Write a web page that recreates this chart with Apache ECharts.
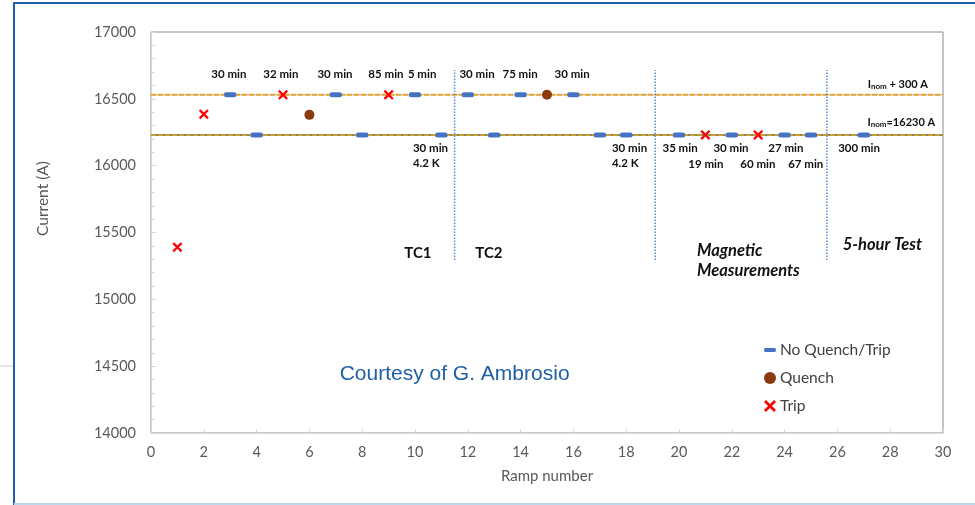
<!DOCTYPE html>
<html>
<head>
<meta charset="utf-8">
<script src="https://cdn.jsdelivr.net/npm/echarts@6/dist/echarts.min.js"></script>
<style>html,body{margin:0;padding:0;background:#fff;}#c{width:975px;height:505px;}</style>
</head>
<body>
<div id="c"></div>
<script>
// ---- data ----
const noQuench = [[3,16530],[7,16530],[10,16530],[12,16530],[14,16530],[16,16530],
  [4,16230],[8,16230],[11,16230],[13,16230],[17,16230],[18,16230],[20,16230],[22,16230],[24,16230],[25,16230],[27,16230]];
const quench = [[6,16380],[15,16530]];
const trip = [[1,15390],[2,16385],[5,16530],[9,16530],[21,16230],[23,16230]];
const nomLevel = 16230;
const nomPlusLevel = 16530;
const phaseBounds = [11.5, 19.1, 25.6];
const phaseLineRange = [15294, 16716];
const topNotes = [[2.95,'30 min'],[4.92,'32 min'],[6.97,'30 min'],[8.9,'85 min'],[10.27,'5 min'],[12.35,'30 min'],[13.98,'75 min'],[15.95,'30 min']];
const lowNotes1 = [[20.04,'35 min'],[21.97,'30 min'],[24.05,'27 min'],[26.82,'300 min']];
const lowNotes2 = [[21.02,'19 min'],[22.99,'60 min'],[24.8,'67 min']];
const coldNotes = [[9.92,'30 min\n4.2 K'],[17.46,'30 min\n4.2 K']];
const phaseNotes = [[10.11,15347,'TC1'],[12.8,15347,'TC2']];
const italicNotes = [[20.68,15290,'Magnetic\nMeasurements'],[26.2,15407,'5-hour Test']];
const levelNotes = [[29.43,16611,'{a|I}{s|nom}{a| + 300 A}'],[29.7,16327,'{a|I}{s|nom}{a|=16230 A}']];
const courtesy = [11.5,14441,'Courtesy of G. Ambrosio'];
const noteY = {top:16686, low1:16132, low2:16012, cold:16076};

const FONT = 'Lato, "Open Sans", sans-serif';
const crossPath = 'path://M0,1.6 L1.6,0 L5,3.4 L8.4,0 L10,1.6 L6.6,5 L10,8.4 L8.4,10 L5,6.6 L1.6,10 L0,8.4 L3.4,5 Z';
const dashPath = 'path://M1.5,0 L10.5,0 Q12,0 12,2 Q12,4 10.5,4 L1.5,4 Q0,4 0,2 Q0,0 1.5,0 Z';

function noteItem(x, y, text, extra) {
  return {value:[x,y], label:Object.assign({show:true, formatter:text}, extra||{})};
}
const minStyle = {fontFamily:FONT, fontWeight:'bold', fontSize:11.5, color:'#111', position:'inside', align:'center', verticalAlign:'middle'};
const notes = [];
topNotes.forEach(n => notes.push(noteItem(n[0], noteY.top, n[1], minStyle)));
lowNotes1.forEach(n => notes.push(noteItem(n[0], noteY.low1, n[1], minStyle)));
lowNotes2.forEach(n => notes.push(noteItem(n[0], noteY.low2, n[1], minStyle)));
coldNotes.forEach(n => notes.push(noteItem(n[0], noteY.cold, n[1], Object.assign({}, minStyle, {align:'left', lineHeight:15}))));
phaseNotes.forEach(n => notes.push(noteItem(n[0], n[1], n[2], Object.assign({}, minStyle, {fontSize:15}))));
italicNotes.forEach(n => notes.push(noteItem(n[0], n[1], n[2], Object.assign({}, minStyle, {fontSize:16.5, fontStyle:'italic', align:'left', lineHeight:20}))));
levelNotes.forEach(n => notes.push(noteItem(n[0], n[1], n[2], {position:'inside', align:'right', verticalAlign:'middle',
  rich:{a:{fontFamily:FONT, fontWeight:'bold', fontSize:11, color:'#111'}, s:{fontFamily:FONT, fontWeight:'bold', fontSize:8, color:'#111', verticalAlign:'bottom', padding:[5,0,0,0]}}})));
notes.push(noteItem(courtesy[0], courtesy[1], courtesy[2], {position:'inside', align:'center', verticalAlign:'middle', fontFamily:'"Liberation Sans", Arial, sans-serif', fontSize:21, color:'#1F5FA8'}));

const vLineSeries = phaseBounds.map(b => ({
  type:'line', data:[[b, phaseLineRange[0]],[b, phaseLineRange[1]]], symbol:'none', silent:true, z:1,
  lineStyle:{color:'#5B8BD0', width:1.5, type:[1.5,1.5]}
}));
function hLine(y, base, gold, baseW) {
  return [
    {type:'line', data:[[0,y],[30,y]], symbol:'none', silent:true, z:1, lineStyle:{color:base, width:baseW}},
    {type:'line', data:[[0,y],[30,y]], symbol:'none', silent:true, z:1, lineStyle:{color:gold, width:2, type:[5,2]}}
  ];
}

const chart = echarts.init(document.getElementById('c'), null, {renderer:'canvas'});
chart.setOption({
  animation:false,
  backgroundColor:'#fff',
  grid:{left:151, right:32, top:32, bottom:72, show:true, borderColor:'#8c8c8c', borderWidth:1},
  xAxis:{type:'value', min:0, max:30, interval:2,
    axisLine:{show:true, lineStyle:{color:'#d9d9d9', width:1}},
    axisTick:{show:true, inside:true, length:4, lineStyle:{color:'#d9d9d9'}},
    splitLine:{show:false},
    axisLabel:{color:'#595959', fontFamily:FONT, fontSize:14.5, margin:12},
    name:'Ramp number', nameLocation:'middle', nameGap:36,
    nameTextStyle:{color:'#595959', fontFamily:FONT, fontSize:15}},
  yAxis:{type:'value', min:14000, max:17000, interval:500,
    axisLine:{show:true, lineStyle:{color:'#d9d9d9', width:1}},
    axisTick:{show:true, inside:true, length:5, lineStyle:{color:'#d9d9d9'}},
    minorTick:{show:true, splitNumber:5, length:4, lineStyle:{color:'#d9d9d9'}},
    splitLine:{show:false},
    axisLabel:{color:'#595959', fontFamily:FONT, fontSize:14.5, margin:15, formatter:v => String(v)},
    name:'Current (A)', nameLocation:'middle', nameGap:100, nameRotate:90,
    nameTextStyle:{color:'#595959', fontFamily:FONT, fontSize:15.5, padding:[0,0,0,68]}},
  legend:{orient:'vertical', left:759, top:337, itemGap:12, itemWidth:12, itemHeight:16,
    textStyle:{color:'#404040', fontFamily:FONT, fontSize:15.5, padding:[0,0,0,-1]},
    data:[{name:'No Quench/Trip', icon:dashPath},{name:'Quench', icon:'circle'},{name:'Trip', icon:crossPath}]},
  series:[
    ...hLine(nomPlusLevel, '#b5aa86', '#E6A52E', 1),
    ...hLine(nomLevel, '#5f5838', '#C9A030', 1.5),
    ...vLineSeries,
    {name:'No Quench/Trip', type:'scatter', data:noQuench, symbol:'roundRect', symbolSize:[12,5], z:3, itemStyle:{color:'#4472C4', opacity:1}},
    {name:'Quench', type:'scatter', data:quench, symbol:'circle', symbolSize:10, z:3, itemStyle:{color:'#8B3A0F', opacity:1}},
    {name:'Trip', type:'scatter', data:trip, symbol:crossPath, symbolSize:10, z:3, itemStyle:{color:'#FF0000', opacity:1}},
    {type:'scatter', data:notes, symbolSize:0, silent:true, z:4, itemStyle:{opacity:1}}
  ],
  graphic:[
    {type:'line', shape:{x1:0,y1:366,x2:14,y2:366}, style:{stroke:'#c8c8c8', lineWidth:1}},
    {type:'line', shape:{x1:14,y1:3,x2:975,y2:3}, style:{stroke:'#1F5FA8', lineWidth:2}},
    {type:'line', shape:{x1:14,y1:2,x2:14,y2:505}, style:{stroke:'#1F5FA8', lineWidth:2}},
    {type:'line', shape:{x1:14,y1:504,x2:975,y2:504}, style:{stroke:'#BDD7EE', lineWidth:2}}
  ]
});
</script>
</body>
</html>
